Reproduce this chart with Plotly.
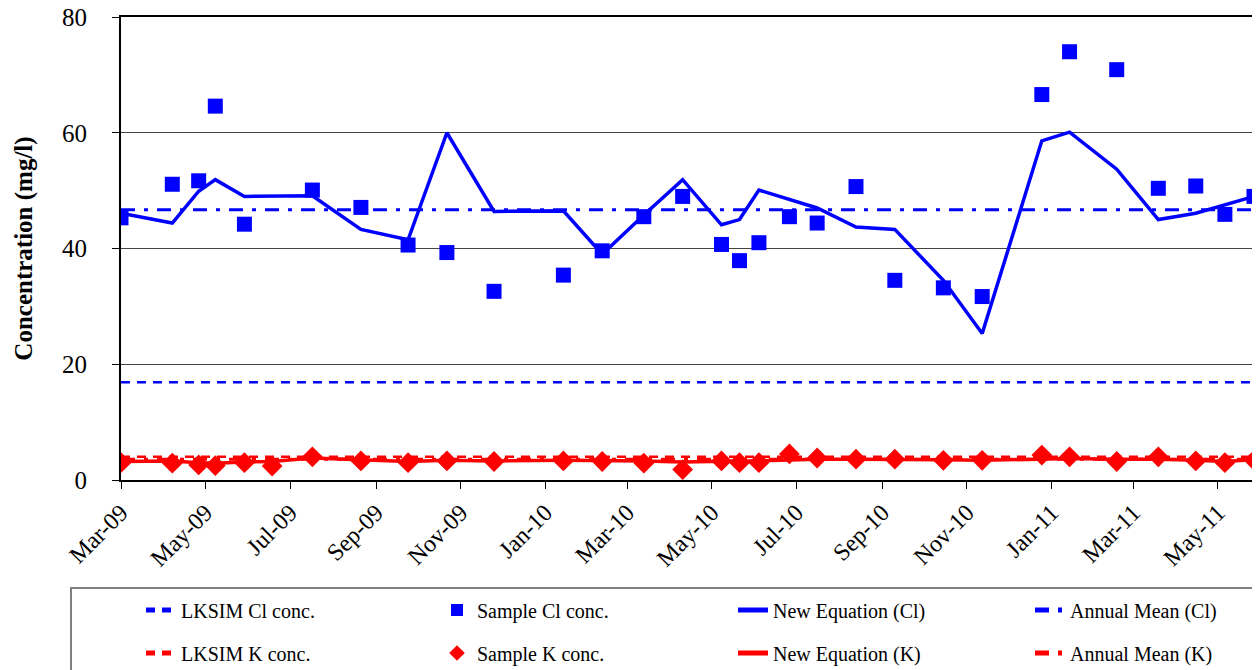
import plotly.graph_objects as go

# ---- data ----
cl_dates = ["2009-03-01", "2009-04-07", "2009-04-26", "2009-05-08", "2009-05-29",
            "2009-07-17", "2009-08-21", "2009-09-24", "2009-10-22", "2009-11-25",
            "2010-01-14", "2010-02-11", "2010-03-13", "2010-04-10", "2010-05-08",
            "2010-05-21", "2010-06-04", "2010-06-26", "2010-07-16", "2010-08-13",
            "2010-09-10", "2010-10-15", "2010-11-12", "2010-12-25", "2011-01-14",
            "2011-02-17", "2011-03-19", "2011-04-15", "2011-05-06", "2011-05-27"]
cl_sample = [45.3, 51.1, 51.7, 64.6, 44.2, 50.1, 47.1, 40.6, 39.3, 32.6,
             35.4, 39.6, 45.5, 49.0, 40.7, 37.9, 41.0, 45.5, 44.4, 50.7,
             34.5, 33.2, 31.7, 66.6, 74.0, 70.9, 50.4, 50.8, 45.9, 49.0]
cl_equation = [46.1, 44.4, 49.9, 51.9, 49.0, 49.1, 43.3, 41.5, 60.0, 46.4,
               46.5, 39.0, 45.8, 51.9, 44.1, 45.0, 50.1, 48.5, 47.0, 43.7,
               43.3, 34.5, 25.3, 58.6, 60.1, 53.7, 45.0, 46.1, 47.5, 49.0]

k_dates = ["2009-03-01", "2009-04-07", "2009-04-26", "2009-05-08", "2009-05-29",
           "2009-06-18", "2009-07-17", "2009-08-21", "2009-09-24", "2009-10-22",
           "2009-11-25", "2010-01-14", "2010-02-11", "2010-03-13", "2010-04-10",
           "2010-05-08", "2010-05-21", "2010-06-04", "2010-06-26", "2010-07-16",
           "2010-08-13", "2010-09-10", "2010-10-15", "2010-11-12", "2010-12-25",
           "2011-01-14", "2011-02-17", "2011-03-19", "2011-04-15", "2011-05-06",
           "2011-05-27"]
k_sample = [3.0, 2.9, 2.6, 2.5, 3.0, 2.4, 4.0, 3.3, 3.0, 3.3,
            3.2, 3.3, 3.2, 2.9, 1.8, 3.3, 3.0, 3.0, 4.5, 3.8,
            3.6, 3.6, 3.4, 3.4, 4.3, 4.0, 3.2, 4.0, 3.3, 3.0, 3.4]
k_equation = [3.2, 3.3, 3.0, 2.9, 3.1, 3.2, 3.8, 3.5, 3.2, 3.4,
              3.3, 3.4, 3.4, 3.3, 3.1, 3.3, 3.3, 3.3, 3.5, 3.6,
              3.6, 3.6, 3.5, 3.4, 3.6, 3.7, 3.6, 3.6, 3.4, 3.2, 3.5]

lksim_cl = 16.9
annual_mean_cl = 46.7
lksim_k = 4.0
annual_mean_k = 3.6

x_range = ["2009-03-01", "2011-05-27"]
y_ticks = [0, 20, 40, 60, 80]

BLUE = "#0000FF"
RED = "#FF0000"
FONT = "Liberation Serif"
W, H = 1260, 670
PAGE_OFF = 8  # default body margin of the written html page

fig = go.Figure()

# legend slot positions (column text start x, row centre y) in page pixels
col_text_x = [181, 477, 773, 1070]
row_y = [610, 653]


def slot(col, row):
    return "legend" + ("" if (col, row) == (0, 0) else str(row * 4 + col + 1))


def hline(val, name, color, dash, width, col, row):
    fig.add_trace(go.Scatter(
        x=x_range, y=[val, val], mode="lines", name=name,
        line=dict(color=color, dash=dash, width=width),
        legend=slot(col, row), hoverinfo="skip"))


# lines first (beneath markers)
hline(lksim_cl, "LKSIM Cl conc.", BLUE, "9px,7px", 2.5, 0, 0)
hline(lksim_k, "LKSIM K conc.", RED, "9px,7px", 2.5, 0, 1)
hline(annual_mean_cl, "Annual Mean (Cl)", BLUE, "14px,9px,4px,9px", 3, 3, 0)
hline(annual_mean_k, "Annual Mean (K)", RED, "14px,9px,4px,9px", 3, 3, 1)

fig.add_trace(go.Scatter(x=cl_dates, y=cl_equation, mode="lines", name="New Equation (Cl)",
                         line=dict(color=BLUE, width=3.5), legend=slot(2, 0)))
fig.add_trace(go.Scatter(x=k_dates, y=k_equation, mode="lines", name="New Equation (K)",
                         line=dict(color=RED, width=3.5), legend=slot(2, 1)))
fig.add_trace(go.Scatter(x=cl_dates, y=cl_sample, mode="markers", name="Sample Cl conc.",
                         marker=dict(symbol="square", color=BLUE, size=15, line=dict(width=0)),
                         legend=slot(1, 0)))
fig.add_trace(go.Scatter(x=k_dates, y=k_sample, mode="markers", name="Sample K conc.",
                         marker=dict(symbol="diamond", color=RED, size=16, line=dict(width=0)),
                         legend=slot(1, 1)))

legends = {}
for r in range(2):
    for c in range(4):
        legends[slot(c, r)] = dict(
            orientation="h", xref="container", yref="container",
            x=(col_text_x[c] - 48) / W, xanchor="left",
            y=1 - (row_y[r] - PAGE_OFF) / H, yanchor="middle",
            font=dict(family=FONT, size=20, color="black"),
            bgcolor="rgba(0,0,0,0)", borderwidth=0, itemsizing="constant")

# plot area in page pixels: x 121..1254, y 17..480
fig.update_layout(
    width=W, height=H,
    margin=dict(l=121 - PAGE_OFF, r=W - (1254 - PAGE_OFF), t=17 - PAGE_OFF,
                b=H - (480 - PAGE_OFF), autoexpand=False),
    paper_bgcolor="white", plot_bgcolor="white",
    font=dict(family=FONT, color="black"),
    showlegend=True,
    **legends,
    xaxis=dict(
        type="date", range=x_range, automargin=False,
        tick0="2009-03-01", dtick="M2", tickformat="%b-%y",
        tickangle=-45, tickfont=dict(family=FONT, size=24, color="black"),
        ticks="outside", ticklen=7, tickwidth=1, tickcolor="black",
        ticklabeloverflow="allow",
        showline=True, linecolor="black", linewidth=2, mirror=True,
        showgrid=False, zeroline=False,
    ),
    yaxis=dict(
        range=[0, 80], tickvals=y_ticks, automargin=False,
        tickfont=dict(family=FONT, size=25, color="black"),
        ticks="outside", ticklen=7, tickwidth=1, tickcolor="black",
        ticklabelstandoff=20, ticklabeloverflow="allow",
        showline=True, linecolor="black", linewidth=2, mirror=True,
        showgrid=True, gridcolor="#444444", gridwidth=1, zeroline=False,
        title=dict(text="<b>Concentration (mg/l)</b>",
                   font=dict(family=FONT, size=25, color="black"), standoff=22),
    ),
    shapes=[dict(type="rect", xref="paper", yref="paper",
                 x0=(71 - 121) / 1133, x1=(1258 - 121) / 1133,
                 y0=(480 - 700) / 463, y1=(480 - 588) / 463,
                 line=dict(color="#808080", width=2), fillcolor="rgba(0,0,0,0)",
                 layer="below")],
)

fig.write_html("out.html")
